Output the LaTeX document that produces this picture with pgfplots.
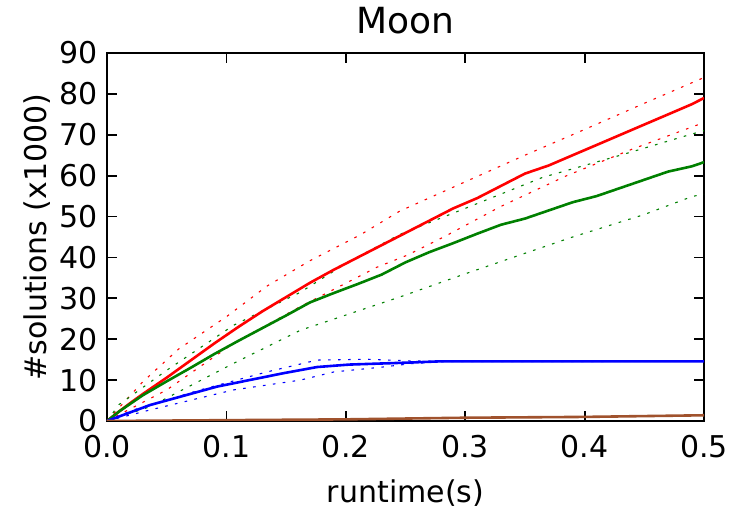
\documentclass[border=0pt]{standalone}
\usepackage{fontspec}
\setmainfont{DejaVu Sans}
\usepackage{pgfplots}
\pgfplotsset{compat=1.18}

\definecolor{mplred}{rgb}{1,0,0}
\definecolor{mplgreen}{rgb}{0,0.5,0}
\definecolor{mplblue}{rgb}{0,0,1}
\definecolor{mplbrown}{RGB}{160,82,45}

\pgfplotsset{
  mean/.style={line width=1.3pt, line join=round},
  bound/.style={line width=0.55pt, dash pattern=on 1.3pt off 3.7pt},
}

\begin{document}
\begin{tikzpicture}
\begin{axis}[
  name=ax,
  scale only axis,
  width=298.5pt, height=184pt,
  xmin=0, xmax=0.5, ymin=0, ymax=90,
  xtick={0,0.1,0.2,0.3,0.4,0.5},
  ytick={0,10,20,30,40,50,60,70,80,90},
  xticklabel style={/pgf/number format/fixed, /pgf/number format/fixed zerofill,
    /pgf/number format/precision=1, yshift=-3.5pt},
  /pgf/number format/assume math mode=true,
  tick align=inside,
  tick pos=both,
  major tick length=5pt,
  every tick/.style={black, line width=0.9pt},
  axis line style={black, line width=1.4pt},
  ticklabel style={font=\fontsize{15}{18}\selectfont},
  yticklabel style={xshift=-1pt},
  title={Moon},
  title style={font=\fontsize{18}{21}\selectfont},
  xlabel={runtime(s)},
  ylabel={\#solutions (x1000)},
  label style={font=\fontsize{15}{18}\selectfont},
  xlabel style={yshift=-4pt},
  ylabel style={yshift=-2pt},
  clip=true,
]
% spread of each method (dotted)
\addplot[bound, mplred] coordinates {
  (0,0) (0.03,9.6) (0.06,17.6) (0.1,25.5) (0.134,33) (0.17,39.2) (0.212,45.5)
  (0.245,51.3) (0.3,58.5) (0.35,65) (0.4,71.3) (0.45,77.7) (0.5,84)
};
\addplot[bound, mplred] coordinates {
  (0,0) (0.05,7.6) (0.106,19) (0.162,28) (0.226,37.6) (0.251,40.5) (0.282,45)
  (0.33,52.5) (0.385,60) (0.44,66.5) (0.5,73)
};
\addplot[bound, mplgreen] coordinates {
  (0,0) (0.01,4) (0.05,12.4) (0.106,23.4) (0.162,31.5) (0.2,38.5) (0.245,45.6)
  (0.3,52) (0.365,59.6) (0.43,65) (0.49,70.2) (0.5,71)
};
\addplot[bound, mplgreen] coordinates {
  (0,0) (0.036,3.5) (0.106,14.1) (0.162,22.2) (0.245,30.3) (0.3,36) (0.39,45)
  (0.45,50.5) (0.49,54.9) (0.5,55.5)
};
\addplot[bound, mplblue] coordinates {
  (0,0) (0.022,2.7) (0.078,7.6) (0.134,12) (0.176,14.9) (0.218,15.1) (0.254,14.7)
  (0.28,14.6) (0.5,14.6)
};
\addplot[bound, mplblue] coordinates {
  (0,0) (0.036,2.7) (0.106,7.6) (0.162,10) (0.19,12) (0.231,13.2) (0.254,14)
  (0.28,14.5) (0.5,14.6)
};
% mean number of solutions
\addplot[mean, mplred] coordinates {
  (0,0) (0.01,2.3) (0.02,4.5) (0.03,6.6) (0.05,10.6) (0.07,14.8) (0.09,19)
  (0.11,23) (0.13,26.8) (0.15,30.3) (0.17,33.8) (0.19,37) (0.21,40) (0.23,43)
  (0.25,46) (0.27,49) (0.29,52) (0.31,54.5) (0.33,57.5) (0.35,60.5) (0.37,62.5)
  (0.39,65) (0.41,67.5) (0.43,70) (0.45,72.5) (0.47,75) (0.49,77.5) (0.5,79)
};
\addplot[mean, mplgreen] coordinates {
  (0,0) (0.01,2.3) (0.03,6.3) (0.05,9.7) (0.07,13) (0.09,16.4) (0.11,19.6)
  (0.13,22.7) (0.15,25.8) (0.17,29) (0.19,31.3) (0.21,33.5) (0.23,35.8) (0.25,38.8)
  (0.27,41.3) (0.29,43.5) (0.31,45.8) (0.33,48) (0.35,49.5) (0.37,51.5) (0.39,53.5)
  (0.41,55) (0.43,57) (0.45,59) (0.47,61) (0.49,62.3) (0.5,63.3)
};
\addplot[mean, mplblue] coordinates {
  (0,0) (0.036,3.9) (0.092,8.4) (0.148,11.7) (0.176,13.2) (0.203,13.8)
  (0.254,14.3) (0.28,14.6) (0.5,14.6)
};
\addplot[mean, mplbrown] coordinates {
  (0,0) (0.1,0.2) (0.2,0.4) (0.3,0.8) (0.4,1.0) (0.45,1.2) (0.5,1.4)
};
\end{axis}
\pgfresetboundingbox
\path[use as bounding box] ([shift={(-53.5pt,-45.5pt)}]ax.south west)
  rectangle ([shift={(14pt,26.5pt)}]ax.north east);
\end{tikzpicture}
\end{document}
